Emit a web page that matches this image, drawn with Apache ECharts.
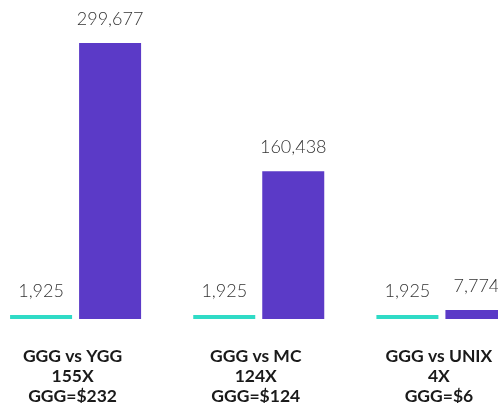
<!DOCTYPE html>
<html>
<head>
<meta charset="utf-8">
<script src="https://cdn.jsdelivr.net/npm/echarts@6/dist/echarts.min.js"></script>
<style>
html,body{margin:0;padding:0;background:#fff;}
#c{width:498px;height:403px;}
</style>
</head>
<body>
<div id="c"></div>
<script>
const categories = [
  ['GGG vs YGG', '155X', 'GGG=$232'],
  ['GGG vs MC', '124X', 'GGG=$124'],
  ['GGG vs UNIX', '4X', 'GGG=$6']
];
const gggValues = [1925, 1925, 1925];
const otherValues = [299677, 160438, 7774];

const chart = echarts.init(document.getElementById('c'), null, {renderer: 'canvas'});
const fontFamily = 'Lato, "Open Sans", sans-serif';
const valueLabel = {
  show: true,
  position: 'top',
  distance: 15,
  fontFamily: fontFamily,
  fontSize: 18,
  fontWeight: 300,
  color: '#333',
  formatter: p => p.value.toLocaleString('en-US')
};
chart.setOption({
  animation: false,
  grid: {left: -16, right: -35.5, top: 43, bottom: 84, outerBoundsMode: 'none', containLabel: false},
  xAxis: {
    type: 'category',
    data: categories.map(c => c.join('\n')),
    axisLine: {show: false},
    axisTick: {show: false},
    axisLabel: {
      interval: 0,
      margin: 27,
      fontFamily: fontFamily,
      fontSize: 17.5,
      fontWeight: 'bold',
      lineHeight: 20,
      color: '#1a1a1a',
      align: 'center',
      padding: [0, 6, 0, 0]
    }
  },
  yAxis: {
    type: 'value',
    min: 0,
    max: Math.max(...otherValues),
    show: false,
    splitLine: {show: false}
  },
  series: [
    {
      type: 'bar',
      data: gggValues,
      barWidth: 62,
      barGap: '11.3%',
      barMinHeight: 4,
      itemStyle: {color: '#2fdbc6'},
      label: valueLabel
    },
    {
      type: 'bar',
      data: otherValues,
      barWidth: 62,
      barMinHeight: 9,
      itemStyle: {color: '#5b3ac7'},
      label: valueLabel
    }
  ]
});
</script>
</body>
</html>
